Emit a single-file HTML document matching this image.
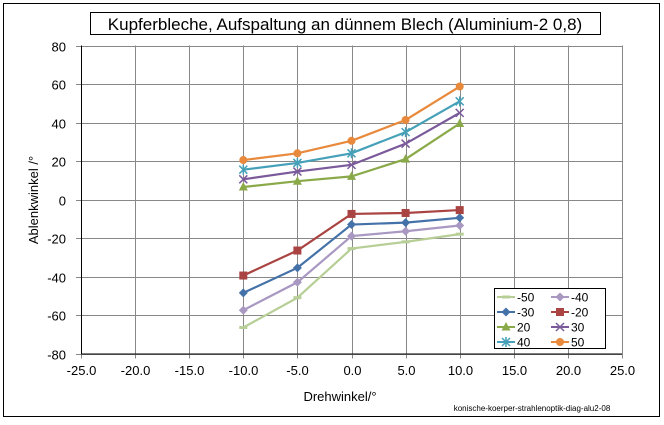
<!DOCTYPE html>
<html><head><meta charset="utf-8"><style>
body{margin:0;background:#fff;font-family:"Liberation Sans",sans-serif;}
svg text{font-family:"Liberation Sans",sans-serif;}
</style></head><body>
<svg width="664" height="420" viewBox="0 0 664 420">
<rect x="3.5" y="3.5" width="656" height="413" fill="#fff" stroke="#000" stroke-width="1"/>
<rect x="90.5" y="12.5" width="510" height="22" fill="#fff" stroke="#000"/>
<text x="345" y="30" text-anchor="middle" font-size="17">Kupferbleche, Aufspaltung an dünnem Blech (Aluminium-2  0,8)</text>
<g id="grid"></g><g id="series"></g>
<text x="340" y="401" text-anchor="middle" font-size="13">Drehwinkel/°</text>
<text x="38" y="200" text-anchor="middle" font-size="13" transform="rotate(-90 38 200)">Ablenkwinkel /°</text>
<text x="532" y="411" text-anchor="middle" font-size="8">konische-koerper-strahlenoptik-diag-alu2-08</text>
<g id="legend"></g>
</svg>
<script>
const xTicks=[-25,-20,-15,-10,-5,0,5,10,15,20,25];
const yTicks=[-80,-60,-40,-20,0,20,40,60,80];
const xVals=[-10,-5,0,5,10];
const seriesNames=["-50","-40","-30","-20","20","30","40","50"];
const sM50=[-66.5,-51,-25.5,-22,-18];
const sM40=[-57.5,-43,-19,-16.5,-13.5];
const sM30=[-48.5,-35.5,-13,-12,-9.5];
const sM20=[-39.5,-26.5,-7.5,-7,-5.5];
const s20=[6.5,9.5,12,21,39.5];
const s30=[10.5,14.5,18,29,45];
const s40=[15.5,19,24,35,51];
const s50=[20.5,24,30.5,41.3,58.7];
const allData=[sM50,sM40,sM30,sM20,s20,s30,s40,s50];
const colors=["#b7cf96","#a898c2","#4472a8","#a94442","#8aaa4a","#7a5a9a","#45a0b8","#e8893c"];
const markers=["dash","diamond","diamond","square","triangle","x","star","circle"];
const NS="http://www.w3.org/2000/svg";
const X=v=>81+(v+25)*(541/50), Y=v=>199.5-v*(154/80);
function mk(t,a,p){const e=document.createElementNS(NS,t);for(const k in a)e.setAttribute(k,a[k]);p.appendChild(e);return e;}
const g=document.getElementById('grid');
xTicks.forEach(t=>{const x=Math.round(X(t))+.5;
 const l=mk('line',{x1:x,x2:x,y1:Y(80),y2:Y(-80)+5,stroke:'#888','stroke-width':1},g);
 
 
 const tx=mk('text',{x:x,y:375,'text-anchor':'middle','font-size':13},g);tx.textContent=t.toFixed(1);
 
 });
yTicks.forEach(t=>{const y=Math.round(Y(t))+.5;
 const l=mk('line',{x1:76,x2:X(25),y1:y,y2:y,stroke:'#888','stroke-width':1},g);
 
 
 const tx=mk('text',{x:66,y:y+5,'text-anchor':'end','font-size':13},g);tx.textContent=t;
 
 });
mk('line',{x1:81.5,x2:81.5,y1:Y(80),y2:Y(-80),stroke:'#000'},g);
mk('line',{x1:81,x2:X(25),y1:Y(-80)+.5,y2:Y(-80)+.5,stroke:'#000'},g);
function marker(type,x,y,c,p){
 if(type==='circle')return mk('circle',{cx:x,cy:y,r:4,fill:c},p);
 if(type==='square')return mk('rect',{x:x-4,y:y-4,width:8,height:8,fill:c},p);
 if(type==='diamond')return mk('path',{d:`M${x} ${y-4.5}L${x+4.5} ${y}L${x} ${y+4.5}L${x-4.5} ${y}Z`,fill:c},p);
 if(type==='triangle')return mk('path',{d:`M${x} ${y-5}L${x+4.5} ${y+3.5}L${x-4.5} ${y+3.5}Z`,fill:c},p);
 if(type==='x')return mk('path',{d:`M${x-4} ${y-4}L${x+4} ${y+4}M${x+4} ${y-4}L${x-4} ${y+4}`,stroke:c,'stroke-width':1.5},p);
 if(type==='star')return mk('path',{d:`M${x-4} ${y-4}L${x+4} ${y+4}M${x+4} ${y-4}L${x-4} ${y+4}M${x} ${y-5}L${x} ${y+5}`,stroke:c,'stroke-width':1.5},p);
 return mk('rect',{x:x-4,y:y-1.5,width:8,height:3,fill:c},p);
}
const sg=document.getElementById('series');
allData.forEach((d,i)=>{
 const grp=mk('g',{},sg);
 
 
 const pl=mk('polyline',{points:d.map((v,j)=>X(xVals[j])+','+Y(v)).join(' '),fill:'none',stroke:colors[i],'stroke-width':2.2},grp);
 
 
 d.forEach((v,j)=>{const m=marker(markers[i],X(xVals[j]),Y(v),colors[i],grp);
  
  });
});
const lg=document.getElementById('legend');


mk('rect',{x:494.5,y:288.5,width:111,height:60,fill:'#fff',stroke:'#000'},lg);
seriesNames.forEach((n,i)=>{
 const col=i%2,row=Math.floor(i/2);const x=505+col*54,y=297+row*15;
 const e=mk('g',{},lg);
 
 
 mk('line',{x1:x-8,x2:x+10,y1:y,y2:y,stroke:colors[i],'stroke-width':2},e);
 marker(markers[i],x+1,y,colors[i],e);
 const t=mk('text',{x:x+12,y:y+4.5,'font-size':12},e);t.textContent=n;
});
</script>
</body></html>
